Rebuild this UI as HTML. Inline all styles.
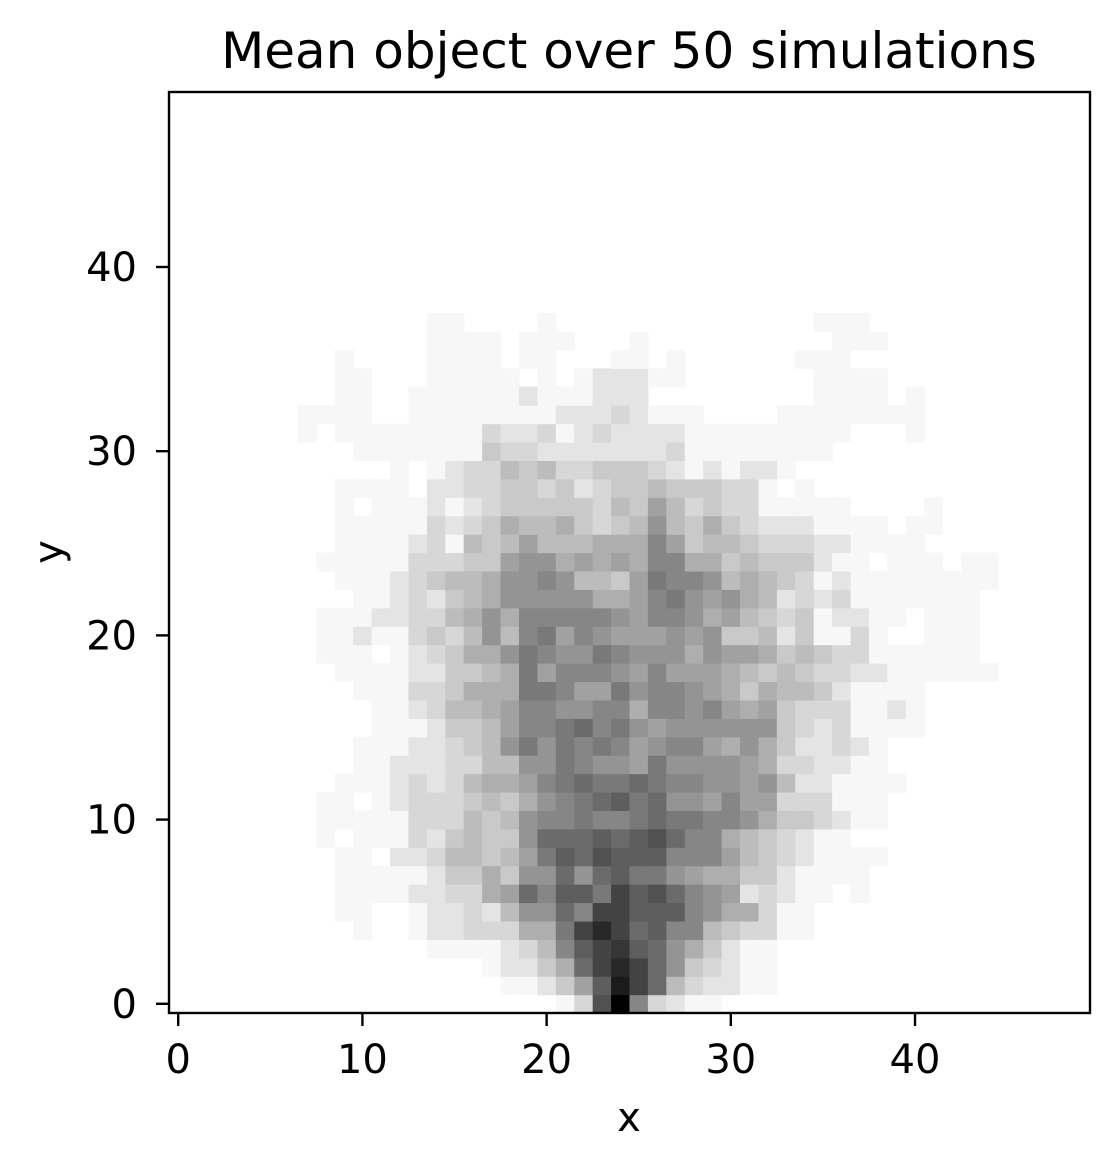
<!DOCTYPE html>
<html><head><meta charset="utf-8"><style>
html,body{margin:0;padding:0;background:#fff;}
svg{display:block;font-family:"DejaVu Sans","Liberation Sans",sans-serif;}
</style></head><body>
<svg id="chart" width="1120" height="1170" viewBox="0 0 1120 1170" xmlns="http://www.w3.org/2000/svg">
<rect width="1120" height="1170" fill="#fff"/>
<text x="629" y="68" font-size="50" text-anchor="middle" fill="#000">Mean object over 50 simulations</text>
<g id="cells"></g>
<g id="axes"></g>
<text x="629" y="1131" font-size="40" text-anchor="middle" fill="#000">x</text>
<text x="62" y="552" font-size="40" text-anchor="middle" fill="#000" transform="rotate(-90 62 552)">y</text>
</svg>
<script>
// rows[r] = grid row y=r (0 at bottom), 50 columns, base-36 intensity 0..19
const rows = [
"0000000000 0000000000 013DJ93211 0000000000 0000000000",
"0000000000 0000000011 247CHEB532 2110000000 0000000000",
"0000000000 0000000122 46BEGEB843 2110000000 0000000000",
"0000000000 0000111123 59CEFCB864 2110000000 0000000000",
"0000000000 1001223336 6AEGEBC995 4331100000 0000000000",
"0000000001 1001223258 8B9EECCC98 6631100000 0000000000",
"0000000001 111223367B 9CCAECDB98 7232110100 0000000000",
"0000000001 1111244648 8B8BCAA876 6442111100 0000000000",
"0000000001 1022355457 ACBDCCC999 7543211110 0000000000",
"0000000010 1113245448 BBBCBCDB99 6543211000 0000000000",
"0000000011 1113335458 99A99ABAA9 9864432110 0000000000",
"0000000011 0123334546 89ABCAB887 9773331110 0000000000",
"0000000001 1123235667 9ABAABA998 8785221111 0000000000",
"0000000000 1122233558 8A9887A888 8763322110 0000000000",
"0000000000 111223458A 8A9A978997 6864223210 0000000000",
"0000000000 0111244579 9AB9A87888 8884323111 1000000000",
"0000000000 0112355679 9889969989 7674333112 1000000000",
"0000000000 111334666A A977A89987 6465542111 1000000000",
"0000000001 111224456A 7999879777 6545433221 1111100000",
"0000000011 101234668A 988A988868 7764543311 1111000000",
"0000000011 2113435859 A798777878 4452411310 0111000000",
"0000000011 1223356869 9999879986 7543412211 0111000000",
"0000000000 1123245688 8886679A87 8652323111 1111000000",
"0000000001 1123455688 985547A998 5654312111 1111100000",
"0000000011 1113334478 8676769966 4544421101 1101100000",
"0000000001 1112315457 5556669745 5433322111 1000000000",
"0000000001 1111323465 5643458546 4322211110 1100000000",
"0000000001 0111212344 4443547534 3311111000 0100000000",
"0000000001 1110223344 3423445444 3310100000 0000000000",
"0000000000 0010123354 5334443212 1221000000 0000000000",
"0000000000 1111111433 2222222311 1111110000 0000000000",
"0000000101 1111111322 3123222211 1111111000 1000000000",
"0000000111 1001111111 1222321110 0001111111 1000000000",
"0000000001 1001111112 1112220000 0000011110 1000000000",
"0000000001 1000111110 1012221100 0000011110 0000000000",
"0000000001 0000111101 1000110100 0000111000 0000000000",
"0000000000 0000111101 1100010000 0000001110 0000000000",
"0000000000 0000110000 1000000000 0000011100 0000000000"
];
const xTicks = [0,10,20,30,40];
const yTicks = [0,10,20,30,40];
const nCells = 50;
const vMax = 19;

const L=169, R=1090, T=92, B=1013;
const cw=(R-L)/nCells;
function xPos(v){return L+cw*(v+0.5);}
function yPos(v){return B-cw*(v+0.5);}
function shade(v){
  const g = v<=1 ? Math.round(255-8*v) : Math.round(255*(1-v/vMax));
  return 'rgb('+g+','+g+','+g+')';
}
const NS='http://www.w3.org/2000/svg';
const cells=document.getElementById('cells');
rows.forEach((s,r)=>{
  const str=s.replace(/ /g,'');
  for(let c=0;c<str.length;c++){
    const v=parseInt(str[c],36);
    if(!v) continue;
    const el=document.createElementNS(NS,'rect');
    
    
    el.setAttribute('x',(xPos(c)-cw/2).toFixed(2));
    el.setAttribute('y',(yPos(r)-cw/2).toFixed(2));
    el.setAttribute('width',(cw+0.6).toFixed(2));
    el.setAttribute('height',(cw+0.6).toFixed(2));
    el.setAttribute('fill',shade(v));
    cells.appendChild(el);
  }
});
const axes=document.getElementById('axes');
const frame=document.createElementNS(NS,'rect');


frame.setAttribute('x',L);frame.setAttribute('y',T);
frame.setAttribute('width',R-L);frame.setAttribute('height',B-T);
frame.setAttribute('fill','none');frame.setAttribute('stroke','#000');frame.setAttribute('stroke-width','2.4');
axes.appendChild(frame);
xTicks.forEach(t=>{
  const x=xPos(t);
  const ln=document.createElementNS(NS,'line');
  
  
  ln.setAttribute('x1',x);ln.setAttribute('x2',x);ln.setAttribute('y1',B);ln.setAttribute('y2',B+13);
  ln.setAttribute('stroke','#000');ln.setAttribute('stroke-width','2.4');
  axes.appendChild(ln);
  const tx=document.createElementNS(NS,'text');
  
  
  tx.setAttribute('x',x);tx.setAttribute('y',B+60);
  tx.setAttribute('font-size','40');tx.setAttribute('text-anchor','middle');
  tx.textContent=t;
  axes.appendChild(tx);
});
yTicks.forEach(t=>{
  const y=yPos(t);
  const ln=document.createElementNS(NS,'line');
  
  
  ln.setAttribute('x1',L-13);ln.setAttribute('x2',L);ln.setAttribute('y1',y);ln.setAttribute('y2',y);
  ln.setAttribute('stroke','#000');ln.setAttribute('stroke-width','2.4');
  axes.appendChild(ln);
  const tx=document.createElementNS(NS,'text');
  
  
  tx.setAttribute('x',L-32);tx.setAttribute('y',y+14);
  tx.setAttribute('font-size','40');tx.setAttribute('text-anchor','end');
  tx.textContent=t;
  axes.appendChild(tx);
});
</script>
</body></html>
